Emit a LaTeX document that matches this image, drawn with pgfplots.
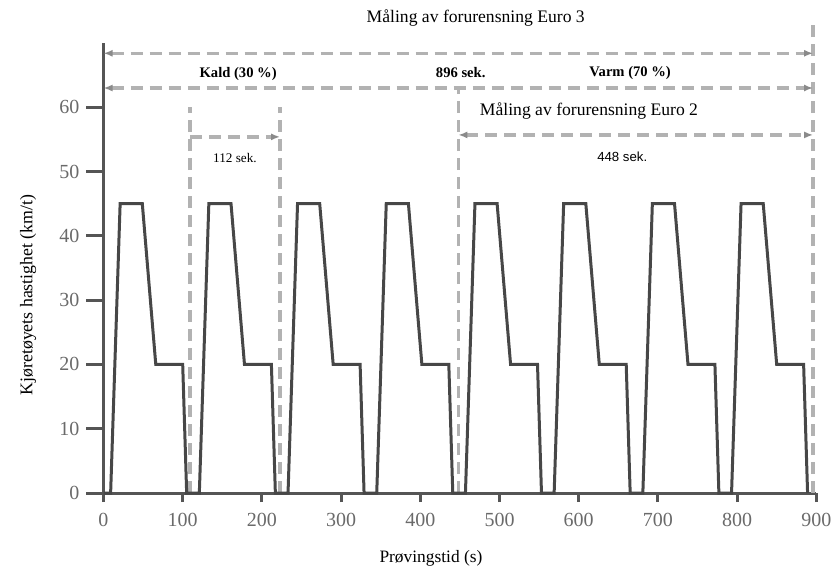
\documentclass[border=0pt]{standalone}
\usepackage{pgfplots}
\pgfplotsset{compat=1.18}
\usepackage{fontspec}
\setmainfont{Liberation Serif}
\newfontfamily\sansf{Liberation Sans}
\usetikzlibrary{arrows.meta}
\def\pxu{0.5pt}
\definecolor{axgray}{HTML}{555555}
\definecolor{curvegray}{HTML}{474747}
\definecolor{dashgray}{HTML}{B2B2B2}
\definecolor{arrgray}{HTML}{8A8A8A}
\definecolor{tickgray}{HTML}{6A6A6A}
\tikzset{
  dl/.style={draw=dashgray, line width=3.5*\pxu, dash pattern=on 12*\pxu off 7*\pxu},
  ah/.tip={Latex[length=9*\pxu,width=7*\pxu,color=arrgray]}
}
\begin{document}
\begin{tikzpicture}
\path[use as bounding box] (0,0) rectangle (836*\pxu,570*\pxu);
\begin{axis}[
  at={(103.5*\pxu,77*\pxu)}, anchor=south west,
  scale only axis, width=712.8*\pxu, height=450*\pxu,
  xmin=0, xmax=900, ymin=0, ymax=70,
  axis lines=left,
  axis line style={-, draw=axgray, line width=3*\pxu},
  clip=false,
  xtick={0,100,...,900},
  ytick=\empty,
  extra y ticks={0,10,20,30,40,50,60},
  extra tick style={major tick length=17*\pxu, grid=none},
  tick align=outside,
  major tick length=9*\pxu,
  tick style={draw=axgray, line width=3*\pxu},
  ticklabel style={font=\fontsize{10}{12}\selectfont, text=tickgray},
  xticklabel style={yshift=-4*\pxu},
  /pgf/number format/assume math mode=true,
]
% dashed guide lines
\addplot[dl, forget plot] coordinates {(109,0) (109,60)};
\addplot[dl, forget plot] coordinates {(223,0) (223,60)};
\addplot[dl, forget plot] coordinates {(448,0) (448,63)};
\addplot[dl, forget plot] coordinates {(896,0) (896,72.8)};
\addplot[dl, ah-ah, forget plot] coordinates {(0,68.4) (896,68.4)};
\addplot[dl, ah-ah, forget plot] coordinates {(0,63) (896,63)};
\addplot[dl, ah-ah, forget plot] coordinates {(448,55.7) (896,55.7)};
\addplot[dl, -ah, forget plot] coordinates {(109,55.4) (223,55.4)};
% speed profile
\addplot[draw=curvegray, line width=3*\pxu, line join=miter] table {
x y
0 0
9 0
21 45
49 45
66 20
100 20
105 0
121 0
133 45
161 45
178 20
212 20
217 0
233 0
245 45
273 45
290 20
324 20
329 0
345 0
357 45
385 45
402 20
436 20
441 0
457 0
469 45
497 45
514 20
548 20
553 0
569 0
581 45
609 45
626 20
660 20
665 0
681 0
693 45
721 45
738 20
772 20
777 0
793 0
805 45
833 45
850 20
884 20
889 0
};
\node[font=\fontsize{8.8}{10}\selectfont] at (axis cs:470,73.9) {Måling av forurensning Euro 3};
\node[font=\bfseries\fontsize{7.3}{9}\selectfont] at (axis cs:170,65.2) {Kald (30 \%)};
\node[font=\bfseries\fontsize{7.3}{9}\selectfont] at (axis cs:451,65.4) {896 sek.};
\node[font=\bfseries\fontsize{7.3}{9}\selectfont] at (axis cs:665,65.4) {Varm (70 \%)};
\node[font=\fontsize{8.8}{10}\selectfont] at (axis cs:613,59.4) {Måling av forurensning Euro 2};
\node[font=\fontsize{6.6}{8}\selectfont] at (axis cs:166,52.1) {112 sek.};
\node[font=\sansf\fontsize{6.6}{8}\selectfont] at (axis cs:655,52.3) {448 sek.};
\end{axis}
\node[rotate=90, font=\fontsize{8.9}{10}\selectfont] at (28*\pxu,275*\pxu) {Kjøretøyets hastighet (km/t)};
\node[font=\fontsize{8.7}{10}\selectfont] at (431*\pxu,12*\pxu) {Prøvingstid (s)};
\end{tikzpicture}
\end{document}
